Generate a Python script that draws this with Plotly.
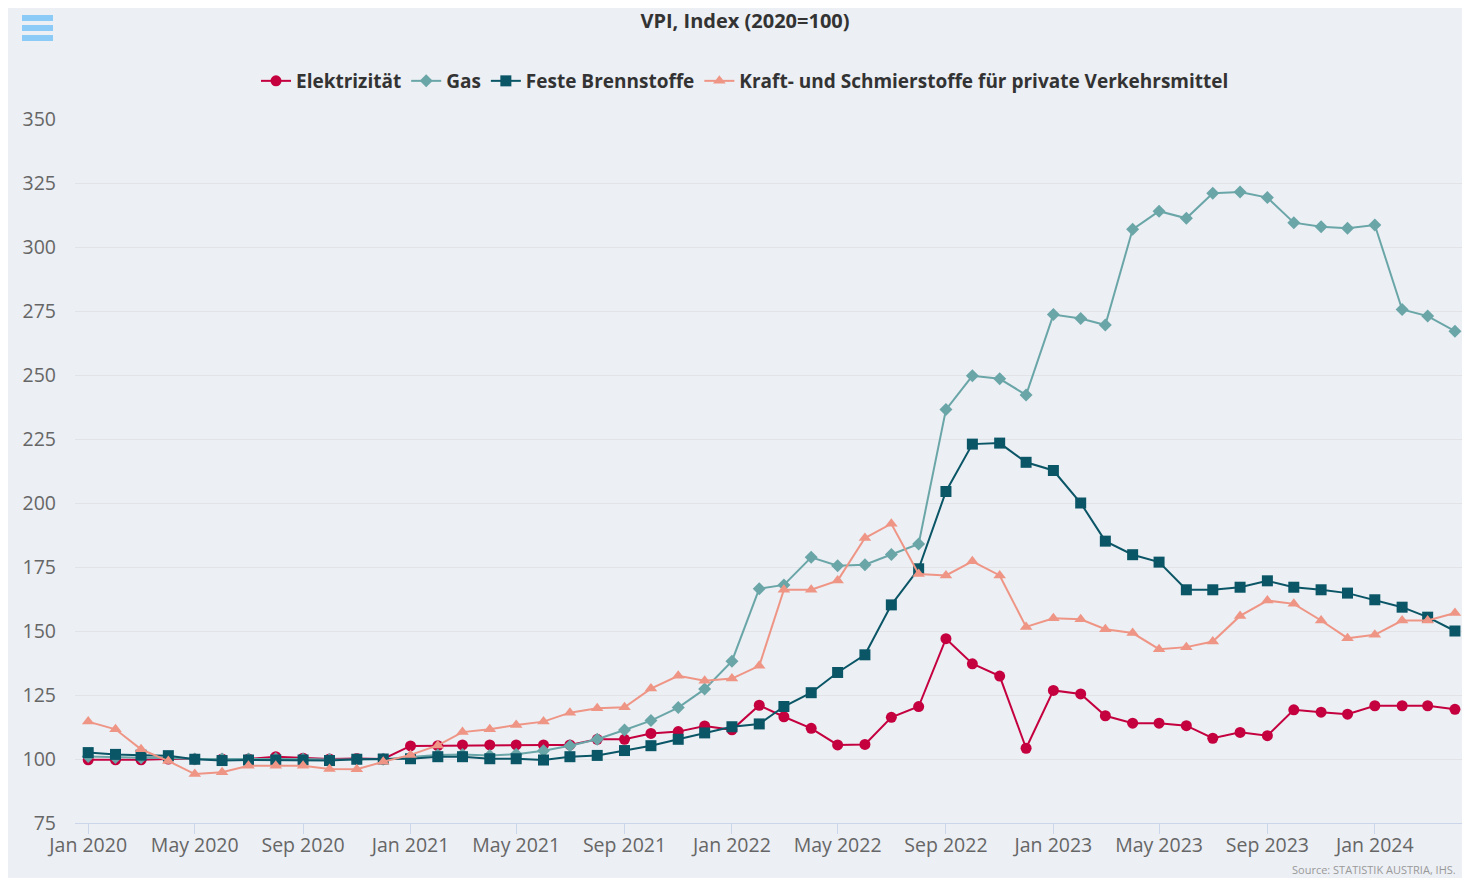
import pandas as pd
import plotly.graph_objects as go

# Monthly CPI sub-indices (2020=100), Jan 2020 - Apr 2024
months = pd.date_range("2020-01-01", "2024-04-01", freq="MS")

elektrizitaet = [99.7, 99.7, 99.7, 100.0, 100.0, 100.0, 100.0, 100.9, 100.3, 100.0, 100.2, 100.0,
                 105.1, 105.2, 105.5, 105.5, 105.5, 105.5, 105.5, 107.7, 107.7, 110.0, 110.7, 112.9,
                 111.4, 121.0, 116.5, 112.0, 105.5, 105.7, 116.3, 120.5, 147.0, 137.2, 132.4, 104.2,
                 126.8, 125.4, 116.9, 114.0, 114.0, 113.0, 108.1, 110.4, 109.1, 119.2, 118.3, 117.5,
                 120.8, 120.8, 120.8, 119.4]

gas = [101.0, 100.6, 100.5, 100.4, 100.0, 100.0, 100.0, 100.2, 100.0, 99.8, 99.8, 99.9,
       100.8, 101.6, 101.8, 101.4, 101.9, 103.2, 105.2, 107.7, 111.3, 115.0, 120.1, 127.3,
       138.2, 166.5, 168.0, 178.8, 175.5, 175.9, 179.9, 184.0, 236.5, 249.7, 248.5, 242.2,
       273.6, 272.1, 269.5, 306.9, 314.0, 311.2, 321.0, 321.5, 319.3, 309.5, 307.9, 307.3,
       308.6, 275.6, 273.0, 267.1]

feste_brennstoffe = [102.5, 101.8, 101.5, 101.3, 99.9, 99.4, 99.6, 99.6, 99.6, 99.4, 99.9, 100.0,
                     100.1, 100.9, 100.9, 100.1, 100.1, 99.6, 100.9, 101.4, 103.3, 105.2, 107.7, 110.2,
                     112.6, 113.7, 120.5, 125.9, 133.8, 140.7, 160.2, 174.3, 204.5, 223.0, 223.4, 215.9,
                     212.7, 200.0, 185.1, 179.8, 176.9, 166.1, 166.1, 167.1, 169.6, 167.1, 166.1, 164.8,
                     162.2, 159.3, 155.4, 150.0]

kraftstoffe = [114.6, 111.6, 103.8, 99.2, 94.1, 94.8, 97.4, 97.4, 97.4, 96.1, 96.0, 98.9,
               101.6, 105.3, 110.5, 111.6, 113.3, 114.6, 118.1, 119.8, 120.2, 127.5, 132.5, 130.6,
               131.4, 136.4, 166.1, 166.1, 169.7, 186.3, 191.9, 172.3, 171.7, 177.2, 171.7, 151.6,
               155.0, 154.6, 150.7, 149.2, 142.9, 143.7, 145.9, 155.9, 161.9, 160.6, 154.1, 147.2,
               148.5, 154.1, 154.1, 157.0]

series = [
    ("Elektrizität", elektrizitaet, "#c4003f", "circle", 11),
    ("Gas", gas, "#6aa6a8", "diamond", 10),
    ("Feste Brennstoffe", feste_brennstoffe, "#0a5566", "square", 11),
    ("Kraft- und Schmierstoffe für private Verkehrsmittel", kraftstoffe, "#ef9585", "triangle-up", 11),
]

FONT = "Open Sans"
# page body has an 8px margin, so the figure sits at (8, 8)
W, H = 1454, 870
L, R, T, B = 67, 0, 111, 55
PW, PH = W - L - R, H - T - B

fig = go.Figure()
for name, vals, color, symbol, size in series:
    fig.add_trace(go.Scatter(
        x=months, y=vals, name=name, mode="lines+markers",
        line=dict(color=color, width=2),
        marker=dict(symbol=symbol, size=size, color=color),
    ))

# menu icon (three bars)
shapes = []
for top in (7, 17, 27):
    shapes.append(dict(type="rect", xref="paper", yref="paper",
                       x0=(14 - L) / PW, x1=(45 - L) / PW,
                       y0=1 + (T - top - 6) / PH, y1=1 + (T - top) / PH,
                       fillcolor="#8ccaf7", line=dict(width=0)))

fig.update_layout(
    width=W, height=H,
    margin=dict(l=L, r=R, t=T, b=B),
    paper_bgcolor="#eceff4",
    plot_bgcolor="#eceff4",
    font=dict(family=FONT, color="#666666"),
    title=dict(text="VPI, Index (2020=100)", x=737 / W, xanchor="center",
               y=1 - 13 / H, yanchor="middle", yref="container",
               font=dict(size=20, color="#333333", family=FONT, weight="bold")),
    legend=dict(orientation="h", x=(737 - L) / PW, xanchor="center",
                y=1 + (T - 73) / PH, yanchor="middle",
                font=dict(size=19, color="#333333", family=FONT, weight="bold"),
                bgcolor="rgba(0,0,0,0)", itemwidth=30),
    showlegend=True,
    shapes=shapes,
    annotations=[dict(text="Source: STATISTIK AUSTRIA, IHS.", xref="paper", yref="paper",
                      x=(1450 - L) / PW, xanchor="right", y=-(861 - T - PH) / PH, yanchor="middle",
                      showarrow=False, font=dict(size=11, color="#999999", family=FONT))],
    hovermode="x unified",
)

fig.update_xaxes(
    range=["2019-12-17", "2024-04-09"],
    tick0="2020-01-01", dtick="M4", tickformat="%b %Y",
    showgrid=False, showline=True, linecolor="#ccd6eb", linewidth=1,
    ticks="outside", ticklen=10, tickcolor="#ccd6eb",
    ticklabelstandoff=-5,
    tickfont=dict(size=19.5, color="#666666"),
    zeroline=False,
)
fig.update_yaxes(
    range=[75, 350], tick0=75, dtick=25,
    showgrid=True, gridcolor="#e1e3e6", gridwidth=1,
    showline=False, zeroline=False, ticks="",
    ticklabelstandoff=18,
    tickfont=dict(size=19.5, color="#666666"),
)

fig.write_html("out.html")
